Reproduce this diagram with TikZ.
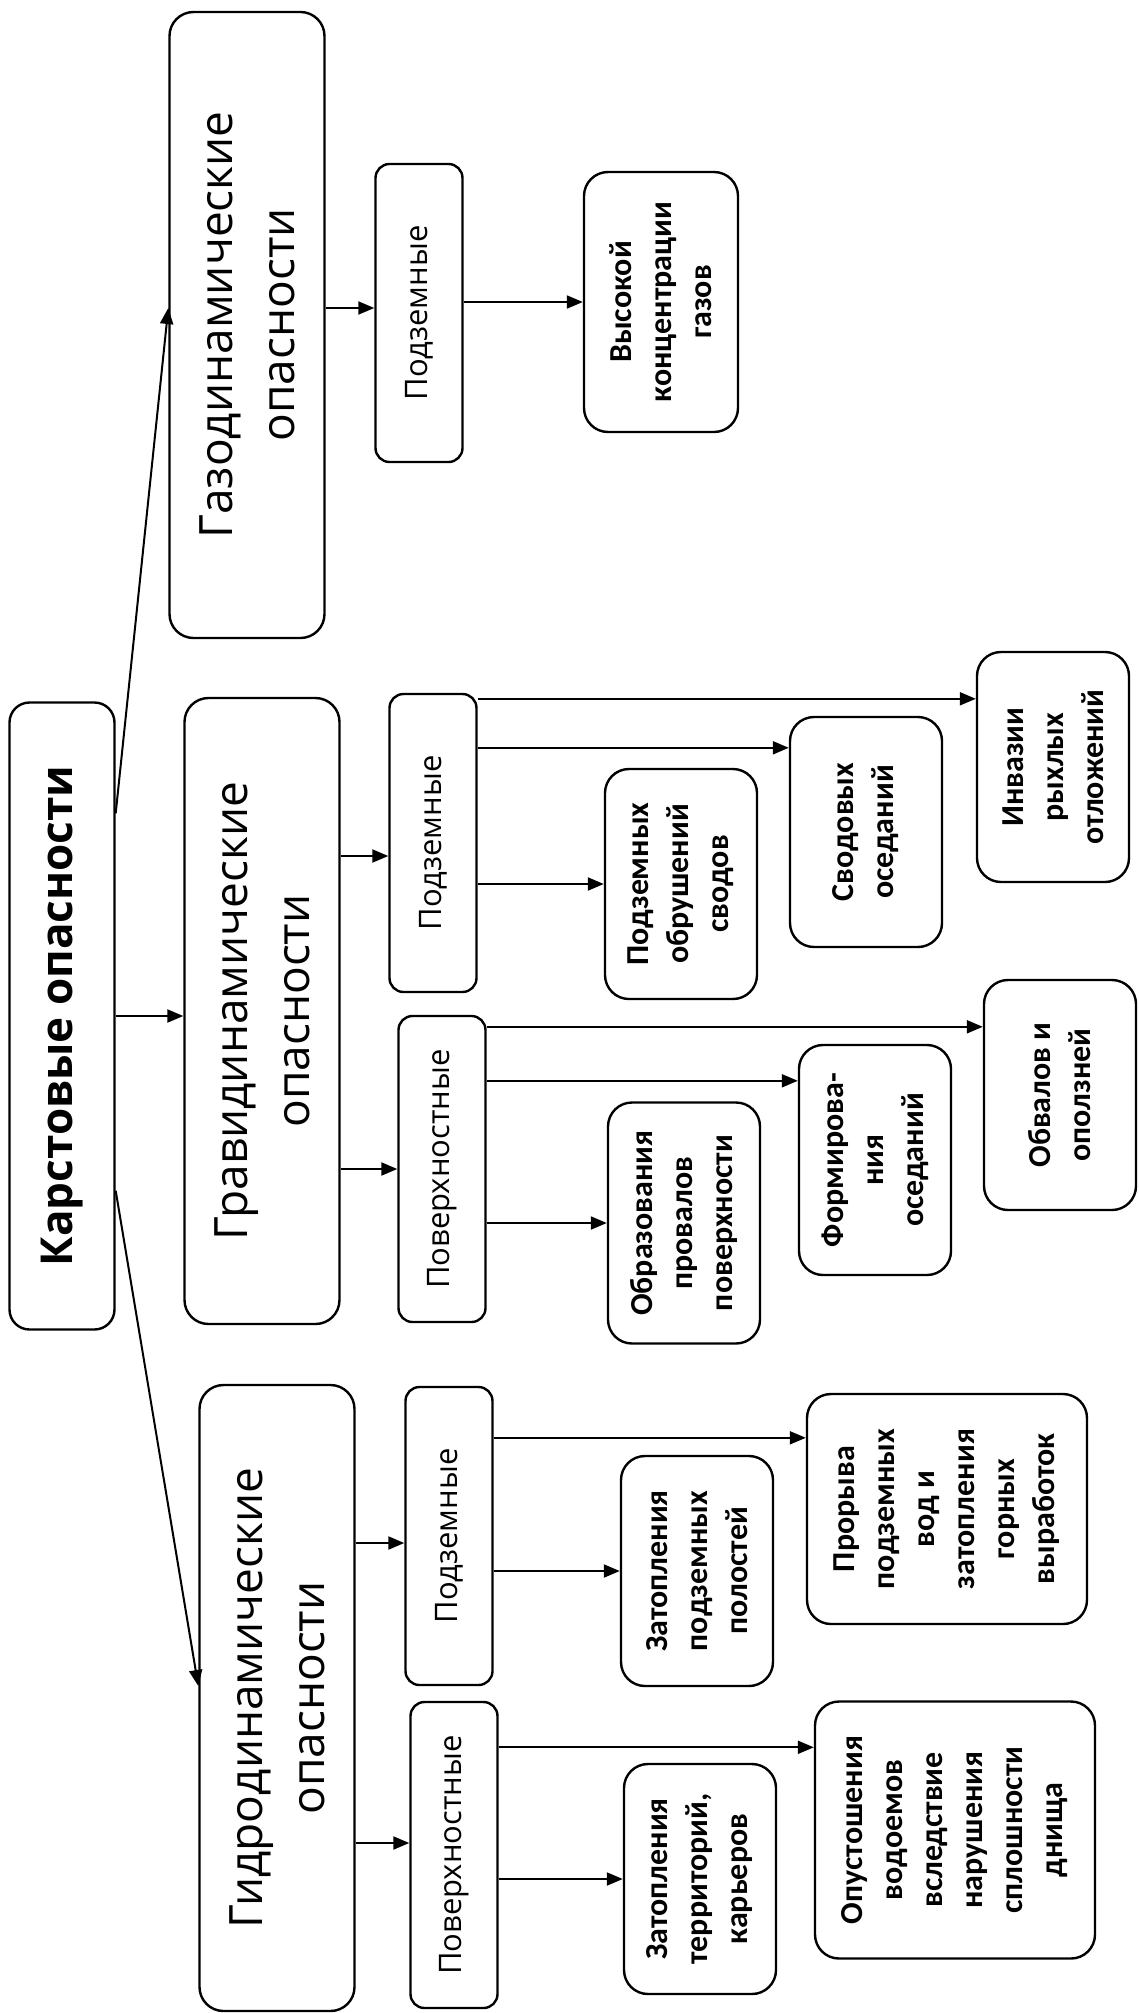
\documentclass[tikz,border=0pt]{standalone}
\usepackage{fontspec}
\setmainfont{Open Sans}
\newfontfamily\leaffont{Carlito}
\usetikzlibrary{arrows.meta,calc}

\begin{document}
\begin{tikzpicture}[
  x=1pt, y=-1pt,
  box/.style   ={draw, rotate=90, align=center, inner sep=0pt, line width=2.4pt},
  topbox/.style={box, rounded corners=20pt, minimum width=627pt, minimum height=105pt,
                 font=\bfseries\fontsize{44}{52}\selectfont},
  big/.style   ={box, rounded corners=24pt, minimum width=626pt, minimum height=155pt,
                 font=\fontsize{46}{62}\selectfont},
  mid/.style   ={box, rounded corners=14pt, minimum width=298pt, minimum height=87pt,
                 font=\fontsize{31}{38}\selectfont},
  leaf/.style  ={box, rounded corners=24pt, minimum width=230pt, minimum height=152pt,
                 font=\leaffont\bfseries\fontsize{32}{40}\selectfont},
  arr/.style   ={-{Triangle[length=16pt,width=13pt]}, line width=2pt}
]
\useasboundingbox (0,0) rectangle (1139,2013);

% root
\node[topbox] (root) at (62,1016) {Карстовые опасности};

% three groups
\node[big] (gaz)   at (247,325)  {Газодинамические\\опасности};
\node[big] (grav)  at (262,1011) {Гравидинамические\\опасности};
\node[big] (gidro) at (277,1698) {Гидродинамические\\опасности};

% underground / surface
\node[mid] (gazPz)   at (419,313)  {Подземные};
\node[mid] (gravPz)  at (433,843)  {Подземные};
\node[mid, minimum width=306pt] (gravPv)  at (442,1169) {Поверхностные};
\node[mid] (gidroPz) at (449,1536) {Подземные};
\node[mid, minimum width=306pt] (gidroPv) at (454,1855) {Поверхностные};

% leaves
\node[leaf, minimum width=260pt, minimum height=154pt] (vys) at (661,302) {Высокой\\концентрации\\газов};
\node[leaf] (inv)  at (1053,767)  {Инвазии\\рыхлых\\отложений};
\node[leaf] (sv)   at (866,832)   {Сводовых\\оседаний};
\node[leaf] (pob)  at (681,884)   {Подземных\\обрушений\\сводов};
\node[leaf] (obv)  at (1060,1095) {Обвалов и\\оползней};
\node[leaf] (form) at (875,1160)  {Формирова-\\ния\\оседаний};
\node[leaf, minimum width=241pt] (obr) at (684,1223) {Образования\\провалов\\поверхности};
\node[leaf, minimum height=280pt] (prr) at (947,1509) {Прорыва\\подземных\\вод и\\затопления\\горных\\выработок};
\node[leaf] (zpp)  at (697,1571)  {Затопления\\подземных\\полостей};
\node[leaf, minimum width=257pt, minimum height=280pt] (op) at (955,1830) {Опустошения\\водоемов\\вследствие\\нарушения\\сплошности\\днища};
\node[leaf] (zt)   at (700,1879)  {Затопления\\территорий,\\карьеров};

% root to groups
\draw[arr] ([yshift=-112pt]root.south east) -- ([yshift=17pt]gaz.north);
\draw[arr] (root.south) -- (root.south -| grav.north);
\draw[arr] ([yshift=140pt]root.south west) -- ([yshift=12pt]gidro.north);

% groups to underground / surface
\foreach \a/\b/\d in {gaz/gazPz/5, grav/gravPz/-13, grav/gravPv/0, gidro/gidroPz/-7, gidro/gidroPv/12}{
  \coordinate (in) at ([yshift=\d pt]\b.north);
  \draw[arr] (\a.south |- in) -- (in);
}

% near leaves
\foreach \a/\b in {gazPz/vys, gravPz/pob, gravPv/obr, gidroPz/zpp, gidroPv/zt}{
  \draw[arr] (\a.south |- \b.north) -- (\b.north);
}

% far leaves, lines pass over the near ones
\foreach \a/\b/\d in {gravPz/inv/48, gravPz/sv/32, gravPv/obv/48, gravPv/form/37, gidroPz/prr/45, gidroPv/op/47}{
  \coordinate (in) at ([yshift=-\d pt]\b.north east);
  \draw[arr] (\a.south |- in) -- (in);
}

\end{tikzpicture}
\end{document}
